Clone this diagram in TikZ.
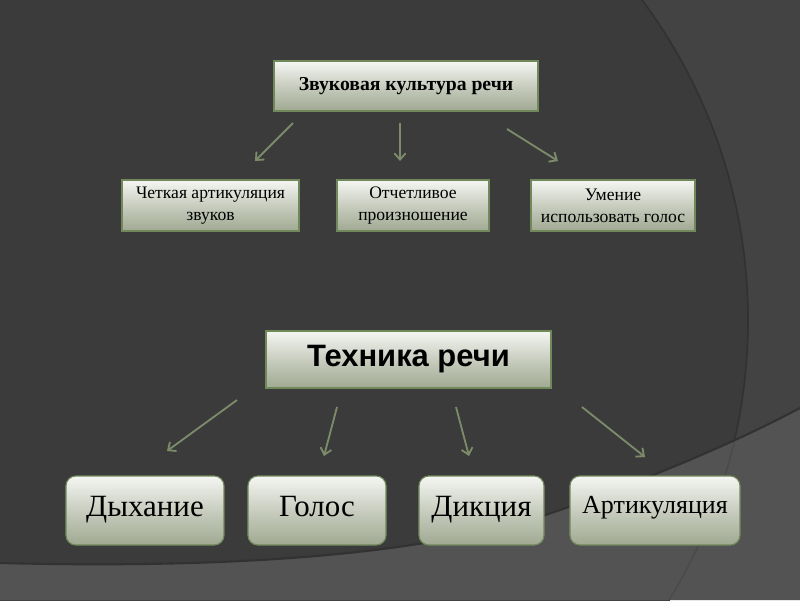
\documentclass[tikz,border=0pt]{standalone}
\usepackage{fontspec}
\setmainfont{Liberation Serif}
\setsansfont{Liberation Sans}
\usetikzlibrary{arrows.meta}
\definecolor{bgdark}{RGB}{59,59,59}
\definecolor{bgright}{RGB}{67,67,67}
\definecolor{bgband}{RGB}{83,83,83}
\definecolor{bgschatten}{RGB}{50,50,50}
\definecolor{bandlinie}{RGB}{74,74,74}
\definecolor{boxline}{RGB}{112,136,90}
\definecolor{boxtop}{RGB}{245,246,242}
\definecolor{boxmid}{RGB}{200,205,191}
\definecolor{boxbot}{RGB}{160,169,146}
\definecolor{arrowgreen}{RGB}{124,140,106}

\begin{document}
\begin{tikzpicture}[x=0.025cm, y=-0.025cm,
					>={Straight Barb[length=4.5pt,width=8pt]},   %Pfeilspitzen
					kasten/.style={draw=boxline, line width=0.8pt, top color=boxtop, bottom color=boxbot, middle color=boxmid, inner sep=0pt, align=center, text=black},
					kastenrund/.style={kasten, rounded corners=7pt, text height=1.05em, text depth=.2em},
					pfeil/.style={->, draw=arrowgreen, line width=1.3pt}]
					\useasboundingbox (0,0) rectangle (800,600);
					%Hintergrund
					\fill[bgdark] (0,0) rectangle (800,600);
					\begin{scope}
						\clip (0,0) rectangle (800,600);
						\fill[bgright, even odd rule] (0,0) rectangle (800,600) (212,320) circle[radius=536];
						\draw[bgschatten, line width=1.2pt] (212,320) circle[radius=536];
					\end{scope}
					% Band unten
					\begin{scope}
						\clip (0,600) -- (0,563) .. controls (200,568) and (420,560) .. (560,510) .. controls (650,478) and (730,445) .. (800,408) -- (800,600) -- cycle;
						\fill[bgband] (0,0) rectangle (800,600);
						\draw[bandlinie, line width=1pt] (212,320) circle[radius=536];
					\end{scope}
					\draw[bgschatten, line width=1.5pt] (0,563) .. controls (200,568) and (420,560) .. (560,510) .. controls (650,478) and (730,445) .. (800,408);
					% Obere Kaesten
					\node[kasten, minimum width=6.6cm, minimum height=1.25cm, font=\fontsize{14}{16}\selectfont\bfseries] (zvuk) at (406,86) {Звуковая культура речи};
					\node[kasten, minimum width=4.425cm, minimum height=1.275cm, font=\fontsize{12.5}{15.5}\selectfont] (artik) at (210.5,205.5) {Четкая артикуляция\\звуков};
					\node[kasten, minimum width=3.8cm, minimum height=1.275cm, font=\fontsize{12.5}{15.5}\selectfont] (otchet) at (413,205.5) {Отчетливое\\произношение};
					\node[kasten, minimum width=4.1cm, minimum height=1.275cm, font=\fontsize{12.5}{15.5}\selectfont] (umenie) at (613,205.5) {Умение\\использовать голос};
					% Untere Kaesten
					\node[kasten, minimum width=7.125cm, minimum height=1.425cm, font=\fontsize{22}{24}\selectfont\sffamily\bfseries] (tehnika) at (408.5,359.5) {Техника речи};
					\node[kastenrund, minimum width=3.95cm, minimum height=1.725cm, font=\fontsize{22}{26}\selectfont] (dyhanie) at (145,510.5) {Дыхание};
					\node[kastenrund, minimum width=3.45cm, minimum height=1.725cm, font=\fontsize{22}{26}\selectfont] (golos) at (317,510.5) {Голос};
					\node[kastenrund, minimum width=3.125cm, minimum height=1.725cm, font=\fontsize{22}{26}\selectfont] (dikcia) at (481.5,510.5) {Дикция};
					\node[kastenrund, minimum width=4.25cm, minimum height=1.725cm, text height=.75em, text depth=.28em, font=\fontsize{18.5}{22}\selectfont] (artikulacia) at (655,510.5) {Артикуляция};
					% Pfeilenden
					\coordinate (o1) at (293,123); \coordinate (z1) at (255,161);
					\coordinate (o2) at (400,123); \coordinate (z2) at (400,161);
					\coordinate (o3) at (507,129); \coordinate (z3) at (558,161);
					\coordinate (u1) at (237,400); \coordinate (v1) at (167,451);
					\coordinate (u2) at (337,407); \coordinate (v2) at (324,456);
					\coordinate (u3) at (456,407); \coordinate (v3) at (469,456);
					\coordinate (u4) at (582,407); \coordinate (v4) at (645,457);
					% Pfeile zeichnen
					\foreach \i in {1,2,3} \draw[pfeil] (o\i) -- (z\i);
					\foreach \i in {1,...,4} \draw[pfeil] (u\i) -- (v\i);
				\end{tikzpicture}
\end{document}
